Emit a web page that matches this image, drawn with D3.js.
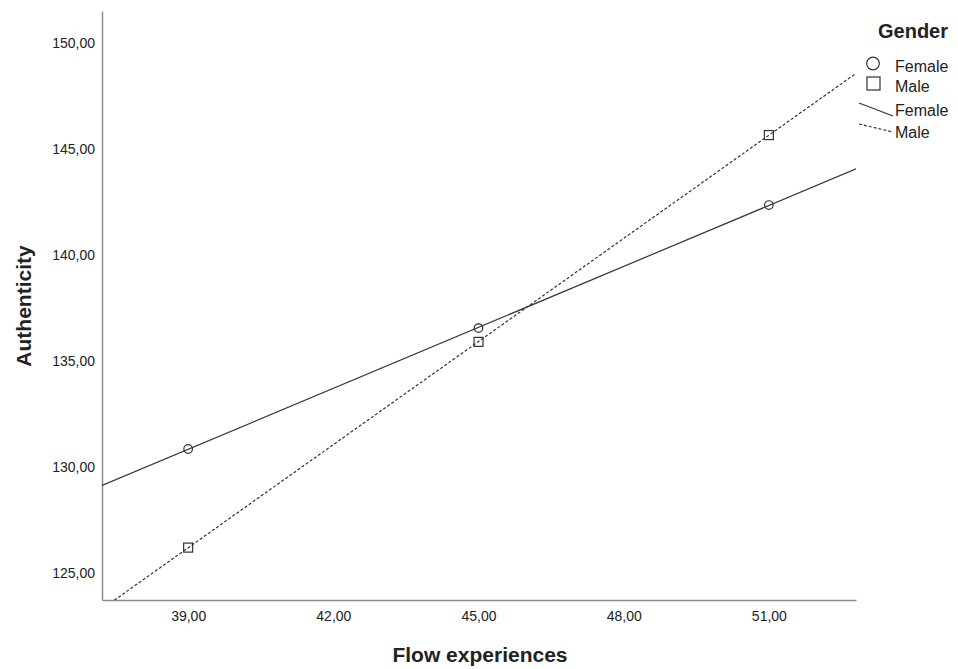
<!DOCTYPE html>
<html>
<head>
<meta charset="utf-8">
<script src="https://cdn.jsdelivr.net/npm/d3@7/dist/d3.min.js"></script>
<style>
  body { margin: 0; background: #fff; }
  text { font-family: "Liberation Sans", Arial, sans-serif; fill: #222; }
</style>
</head>
<body>
<div id="chart"></div>
<script>
// Data
const flowLevels = [39, 45, 51];
const femaleMeans = [130.85, 136.55, 142.35];
const maleMeans = [126.2, 135.9, 145.65];
const xTicks = [39, 42, 45, 48, 51];
const yTicks = [125, 130, 135, 140, 145, 150];
const legendLabels = ['Female', 'Male'];

const W = 958, H = 669;
const margin = { top: 11, right: 102, bottom: 69, left: 102 };
const width = W - margin.left - margin.right;
const height = H - margin.top - margin.bottom;

const fmt = v => d3.format('.2f')(v).replace('.', ',');

const svg = d3.select('#chart').append('svg')
    .attr('width', W).attr('height', H);

const g = svg.append('g').attr('transform', `translate(${margin.left},${margin.top})`);

const x = d3.scaleLinear().domain([37.22, 52.8]).range([0, width]);
const y = d3.scaleLinear().domain([123.73, 151.5]).range([height, 0]);

g.append('defs').append('clipPath').attr('id', 'clip')
    .append('rect').attr('width', width).attr('height', height);

// Axes (no tick marks, gray domain line)
const xAxis = g.append('g').attr('transform', `translate(0,${height})`)
    .call(d3.axisBottom(x).tickValues(xTicks).tickFormat(fmt).tickSize(0).tickPadding(11));
const yAxis = g.append('g')
    .call(d3.axisLeft(y).tickValues(yTicks).tickFormat(fmt).tickSize(0).tickPadding(7));
[xAxis, yAxis].forEach(a => {
    a.select('.domain').attr('stroke', '#8c8c8c').attr('stroke-width', 1.5);
    a.selectAll('text').attr('font-size', 14).attr('fill', '#222')
        .style('font-family', '"Liberation Sans", Arial, sans-serif');
});

// Least-squares fit lines extended across the plot
function fit(xs, ys) {
    const mx = d3.mean(xs), my = d3.mean(ys);
    const b = d3.sum(xs, (v, i) => (v - mx) * (ys[i] - my)) / d3.sum(xs, v => (v - mx) ** 2);
    return v => my + b * (v - mx);
}
const series = [
    { name: 'Female', values: femaleMeans, dash: null, marker: 'circle' },
    { name: 'Male', values: maleMeans, dash: '3,2', marker: 'square' }
];

const plot = g.append('g').attr('clip-path', 'url(#clip)');
const lineColor = '#333';
series.forEach(s => {
    const f = fit(flowLevels, s.values);
    const dom = x.domain();
    plot.append('line')
        .attr('x1', x(dom[0])).attr('y1', y(f(dom[0])))
        .attr('x2', x(dom[1])).attr('y2', y(f(dom[1])))
        .attr('stroke', lineColor).attr('stroke-width', 1.2)
        .attr('stroke-dasharray', s.dash);
});

// Markers
series.forEach(s => {
    const pts = flowLevels.map((v, i) => ({ x: v, y: s.values[i] }));
    if (s.marker === 'circle') {
        g.selectAll(null).data(pts).enter().append('circle')
            .attr('cx', d => x(d.x)).attr('cy', d => y(d.y)).attr('r', 4.3)
            .attr('fill', 'none').attr('stroke', lineColor).attr('stroke-width', 1.2);
    } else {
        g.selectAll(null).data(pts).enter().append('rect')
            .attr('x', d => x(d.x) - 4.5).attr('y', d => y(d.y) - 4.5)
            .attr('width', 9).attr('height', 9)
            .attr('fill', 'none').attr('stroke', lineColor).attr('stroke-width', 1.2);
    }
});

// Axis titles
svg.append('text')
    .attr('x', 480).attr('y', 662)
    .attr('text-anchor', 'middle').attr('font-size', 21).attr('font-weight', 'bold')
    .text('Flow experiences');
svg.append('text')
    .attr('transform', `translate(31,306) rotate(-90)`)
    .attr('text-anchor', 'middle').attr('font-size', 21).attr('font-weight', 'bold')
    .text('Authenticity');

// Legend
const lg = svg.append('g');
lg.append('text').attr('x', 878).attr('y', 38).attr('font-size', 20).attr('font-weight', 'bold')
    .text('Gender');
lg.append('circle').attr('cx', 873).attr('cy', 63.5).attr('r', 6.3)
    .attr('fill', 'none').attr('stroke', lineColor).attr('stroke-width', 1.2);
lg.append('rect').attr('x', 867).attr('y', 77).attr('width', 13).attr('height', 13)
    .attr('fill', 'none').attr('stroke', lineColor).attr('stroke-width', 1.2);
lg.append('line').attr('x1', 859).attr('y1', 103).attr('x2', 893).attr('y2', 116)
    .attr('stroke', lineColor).attr('stroke-width', 1.2);
lg.append('line').attr('x1', 859).attr('y1', 124).attr('x2', 893).attr('y2', 132)
    .attr('stroke', lineColor).attr('stroke-width', 1.2).attr('stroke-dasharray', '3,2');
const labelY = [72, 92, 116, 138];
[legendLabels[0], legendLabels[1], legendLabels[0], legendLabels[1]].forEach((t, i) => {
    lg.append('text').attr('x', 895).attr('y', labelY[i]).attr('font-size', 16).text(t);
});
</script>
</body>
</html>
